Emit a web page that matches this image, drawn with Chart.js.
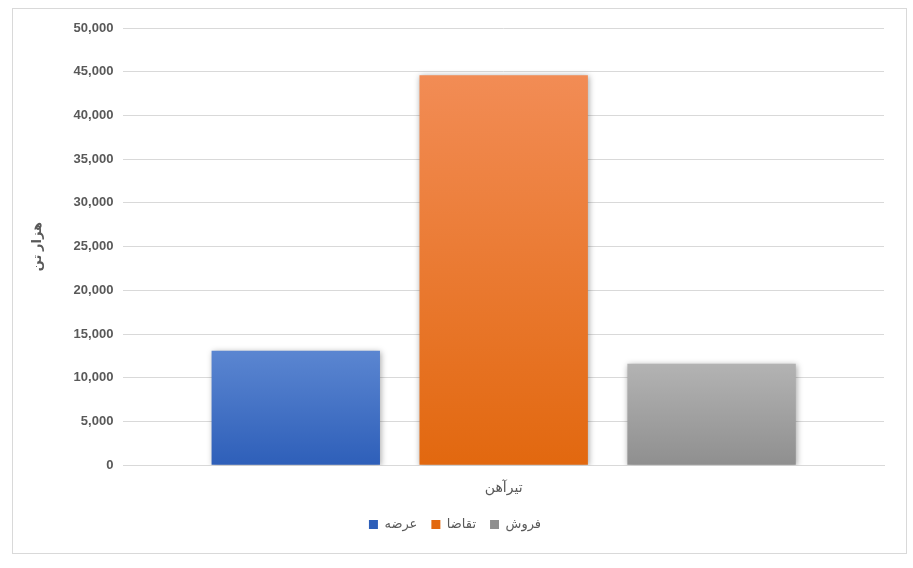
<!DOCTYPE html>
<html>
<head>
<meta charset="utf-8">
<script src="https://cdn.jsdelivr.net/npm/chart.js@4/dist/chart.umd.min.js"></script>
<style>
  body { margin: 0; background: #fff; }
  #box {
    position: absolute; left: 12px; top: 8px;
    width: 893px; height: 544px;
    border: 1px solid #d9d9d9; background: #fff;
  }
</style>
</head>
<body>
<div id="box"><canvas id="chart" width="893" height="544"></canvas></div>
<script>
const categories = ['تیرآهن'];
const seriesNames = ['عرضه', 'تقاضا', 'فروش'];
const supplyValues = [13100];
const demandValues = [44600];
const salesValues = [11600];
const yTicks = [0, 5000, 10000, 15000, 20000, 25000, 30000, 35000, 40000, 45000, 50000];

const FONT = '"Liberation Sans", "DejaVu Sans", sans-serif';

// top/bottom colours for each bar gradient
const shades = [
  ['#5b86d1', '#2e5fb9'],
  ['#f28c55', '#e2680f'],
  ['#b3b3b3', '#8f8f8f']
];

function gradientFor(i) {
  return function(context) {
    const { chart } = context;
    const area = chart.chartArea;
    if (!area) return shades[i][1];
    const y = chart.scales.y;
    const v = context.raw || 0;
    const top = y.getPixelForValue(v);
    const g = chart.ctx.createLinearGradient(0, top, 0, area.bottom);
    g.addColorStop(0, shades[i][0]);
    g.addColorStop(1, shades[i][1]);
    return g;
  };
}

const barShadow = {
  id: 'barShadow',
  beforeDatasetsDraw(chart) {
    chart.ctx.save();
    chart.ctx.shadowColor = 'rgba(0,0,0,0.35)';
    chart.ctx.shadowBlur = 6;
    chart.ctx.shadowOffsetX = 1;
    chart.ctx.shadowOffsetY = 1;
  },
  afterDatasetsDraw(chart) {
    chart.ctx.restore();
  }
};

const valueSets = [supplyValues, demandValues, salesValues];

new Chart(document.getElementById('chart'), {
  type: 'bar',
  data: {
    labels: categories,
    datasets: seriesNames.map((name, i) => ({
      label: name,
      data: valueSets[i],
      backgroundColor: gradientFor(i),
      borderWidth: 0,
      categoryPercentage: 0.82,
      barPercentage: 0.81
    }))
  },
  options: {
    responsive: false,
    animation: false,
    layout: { padding: { left: 13, right: 22, top: 19, bottom: 12 } },
    scales: {
      x: {
        offset: true,
        grid: { display: false },
        border: { display: true, color: '#d9d9d9' },
        ticks: { color: '#595959', font: { family: FONT, size: 14 }, padding: 7 }
      },
      y: {
        min: 0,
        max: 50000,
        afterBuildTicks: (axis) => { axis.ticks = yTicks.map(v => ({ value: v })); },
        grid: { color: '#d9d9d9', drawTicks: false },
        border: { display: false },
        ticks: {
          color: '#595959',
          padding: 10,
          font: { family: FONT, size: 13, weight: 'bold' },
          callback: (v) => Number(v).toLocaleString('en-US')
        },
        title: {
          display: true,
          text: 'هزار تن',
          color: '#595959',
          font: { family: FONT, size: 13, weight: 'bold' },
          padding: { bottom: 18 }
        }
      }
    },
    plugins: {
      legend: {
        position: 'bottom',
        labels: {
          color: '#595959',
          font: { family: FONT, size: 13 },
          boxWidth: 9,
          boxHeight: 9,
          padding: 14,
          generateLabels: (chart) => seriesNames.map((name, i) => ({
            text: name,
            fillStyle: shades[i][1],
            strokeStyle: shades[i][1],
            fontColor: '#595959',
            lineWidth: 0,
            datasetIndex: i
          }))
        }
      },
      tooltip: { enabled: false }
    }
  },
  plugins: [barShadow]
});
</script>
</body>
</html>
